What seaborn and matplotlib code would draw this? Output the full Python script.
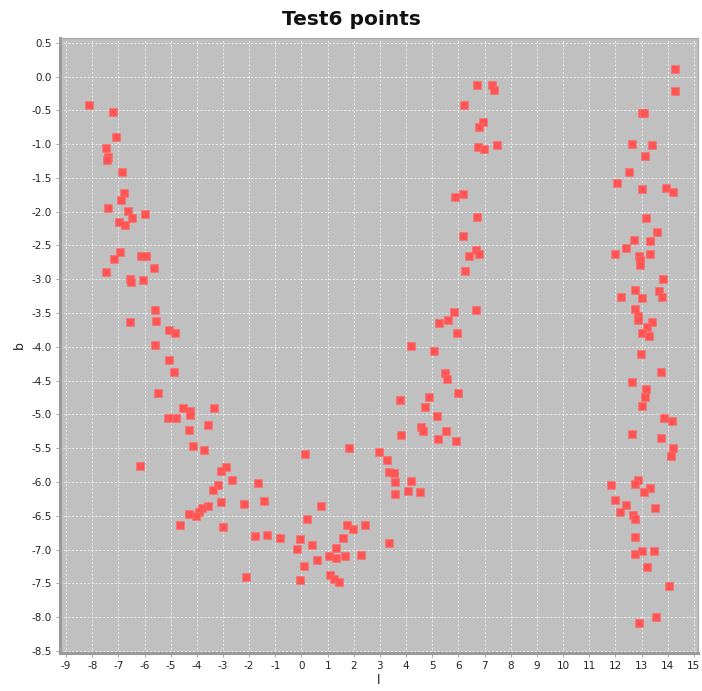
import matplotlib
matplotlib.use("Agg")
import matplotlib.pyplot as plt
import matplotlib.ticker as mticker
import seaborn as sns
import pandas as pd
import numpy as np

# ---- data ----
l_left = [-8.11, -7.20, -7.08, -7.47, -7.39, -7.42, -6.85, -6.80, -6.89, -7.41,
          -6.63, -6.46, -5.99, -6.96, -6.75, -6.95, -7.17, -7.47, -6.15, -5.96,
          -5.64, -6.54, -6.53, -6.04, -5.59, -5.56, -6.54, -5.05, -4.82, -5.60,
          -5.08, -4.89, -5.50, -4.54, -4.27, -4.25, -5.12, -4.81, -3.35, -4.29,
          -3.58, -4.15, -3.74, -6.16, -3.06, -2.87, -2.65, -3.18, -3.39, -3.07,
          -3.58, -3.80, -3.90, -4.02, -4.31, -4.66, -3.01]
b_left = [-0.42, -0.53, -0.89, -1.06, -1.19, -1.24, -1.42, -1.73, -1.83, -1.94,
          -1.99, -2.10, -2.04, -2.15, -2.20, -2.59, -2.70, -2.89, -2.65, -2.66,
          -2.83, -3.00, -3.04, -3.01, -3.45, -3.62, -3.63, -3.75, -3.80, -3.97,
          -4.19, -4.37, -4.69, -4.90, -4.95, -5.01, -5.06, -5.06, -4.91, -5.23,
          -5.16, -5.46, -5.52, -5.76, -5.84, -5.78, -5.97, -6.05, -6.12, -6.29,
          -6.36, -6.38, -6.44, -6.51, -6.48, -6.63, -6.67]

l_bottom = [-2.19, -1.68, -1.44, -1.76, -1.33, -2.13, -0.83, 0.15, -0.04, -0.19,
            0.39, 0.21, 0.75, 0.11, -0.05, 0.61, 1.07, 1.32, 1.31, 1.65,
            1.58, 1.73, 1.97, 2.44, 2.29, 1.09, 1.26, 1.42, 1.82, 3.34]
b_bottom = [-6.33, -6.01, -6.28, -6.80, -6.78, -7.40, -6.83, -5.58, -6.84, -6.99,
            -6.93, -6.54, -6.36, -7.25, -7.45, -7.16, -7.10, -6.97, -7.12, -7.10,
            -6.83, -6.64, -6.70, -6.64, -7.08, -7.38, -7.43, -7.48, -5.49, -6.90]

l_mid = [2.96, 3.28, 3.34, 3.55, 3.59, 4.20, 3.57, 4.07, 4.55, 3.80,
         4.56, 4.64, 5.20, 5.52, 5.91, 5.18, 3.77, 4.88, 4.74, 5.98,
         5.48, 5.55, 4.17, 5.06, 5.94, 5.26, 5.62, 5.84, 6.69, 6.24,
         6.40, 6.69, 6.79, 6.17, 6.72, 5.86, 6.17, 6.75, 6.97, 7.48,
         6.93, 6.79, 6.21, 6.72, 7.28, 7.37]
b_mid = [-5.55, -5.68, -5.85, -5.87, -6.00, -5.99, -6.17, -6.13, -6.15, -5.31,
         -5.19, -5.25, -5.36, -5.24, -5.39, -5.02, -4.78, -4.74, -4.89, -4.69,
         -4.38, -4.47, -3.98, -4.06, -3.79, -3.64, -3.60, -3.49, -3.46, -2.88,
         -2.65, -2.57, -2.63, -2.36, -2.08, -1.78, -1.74, -1.04, -1.07, -1.02,
         -0.67, -0.75, -0.42, -0.12, -0.13, -0.20]

l_right = [14.27, 14.28, 13.02, 13.11, 12.65, 13.39, 13.13, 12.53, 12.06, 13.02,
           13.93, 14.19, 13.16, 13.59, 12.70, 13.34, 12.39, 11.97, 12.89, 12.94,
           12.94, 13.34, 13.83, 12.74, 12.21, 13.00, 13.65, 13.77, 12.75, 12.86,
           12.87, 13.41, 13.22, 13.03, 13.29, 12.97, 13.74, 12.62, 13.18, 13.15,
           13.03, 13.85, 14.17, 12.62, 13.74, 14.22, 14.11, 12.87, 12.76, 11.82,
           13.32, 13.11, 11.98, 12.39, 13.51, 12.17, 12.68, 12.76, 12.76, 13.03,
           13.46, 12.74, 13.20, 14.04, 13.54, 12.89]
b_right = [0.11, -0.21, -0.54, -0.54, -1.00, -1.01, -1.17, -1.42, -1.57, -1.67,
           -1.65, -1.71, -2.10, -2.30, -2.42, -2.43, -2.54, -2.63, -2.65, -2.72,
           -2.79, -2.63, -2.99, -3.16, -3.26, -3.27, -3.18, -3.26, -3.44, -3.55,
           -3.61, -3.63, -3.70, -3.80, -3.84, -4.11, -4.37, -4.52, -4.62, -4.74,
           -4.88, -5.06, -5.09, -5.29, -5.35, -5.50, -5.62, -5.97, -6.03, -6.05,
           -6.09, -6.15, -6.26, -6.34, -6.38, -6.44, -6.49, -6.54, -6.82, -7.02,
           -7.02, -7.07, -7.26, -7.54, -7.99, -8.09]

x_ticks = list(range(-9, 16))
y_ticks = [0.5 - 0.5 * i for i in range(19)]

df = pd.DataFrame({
    "l": l_left + l_bottom + l_mid + l_right,
    "b": b_left + b_bottom + b_mid + b_right,
})

# ---- style ----
sns.set_theme(style="white")
plt.rcParams["font.family"] = ["DejaVu Sans"]

fig = plt.figure(figsize=(7.02, 6.91), dpi=100)
ax = fig.add_axes([0.0855, 0.055, 0.9085, 0.89])
ax.set_facecolor("#c0c0c0")

sns.scatterplot(data=df, x="l", y="b", marker="s", s=38, color="#ff5555",
                edgecolor="#ff6f6f", linewidth=0.4, ax=ax, zorder=3)

ax.set_xlim(-9.23, 15.15)
ax.set_ylim(-8.53, 0.57)
ax.xaxis.set_major_locator(mticker.FixedLocator(x_ticks))
ax.yaxis.set_major_locator(mticker.FixedLocator(y_ticks))
ax.xaxis.set_major_formatter(mticker.FuncFormatter(lambda v, p: f"{int(round(v))}"))
ax.yaxis.set_major_formatter(mticker.FuncFormatter(lambda v, p: f"{v:.1f}"))

ax.grid(True, color="#ececec", linestyle=(0, (2, 2)), linewidth=0.7, zorder=0)
ax.set_axisbelow(True)

ax.tick_params(axis="both", which="major", labelsize=7.5, length=3, width=0.6,
               color="#999999", labelcolor="#222222", direction="out", pad=3,
               bottom=True, left=True)

for side in ["top", "right"]:
    ax.spines[side].set_color("#a8a8a8")
    ax.spines[side].set_linewidth(0.8)
for side in ["left", "bottom"]:
    ax.spines[side].set_color("#9a9a9a")
    ax.spines[side].set_linewidth(2.2)

ax.set_xlabel("l", fontsize=9, color="#222222", labelpad=2)
ax.set_ylabel("b", fontsize=9, color="#222222", labelpad=4)

fig.suptitle("Test6 points", x=0.5, y=0.985, fontsize=14.5, fontweight="bold",
             family=["Liberation Sans Narrow", "DejaVu Sans"], color="#111111")

fig.savefig("out.png", dpi=100, facecolor="white")
